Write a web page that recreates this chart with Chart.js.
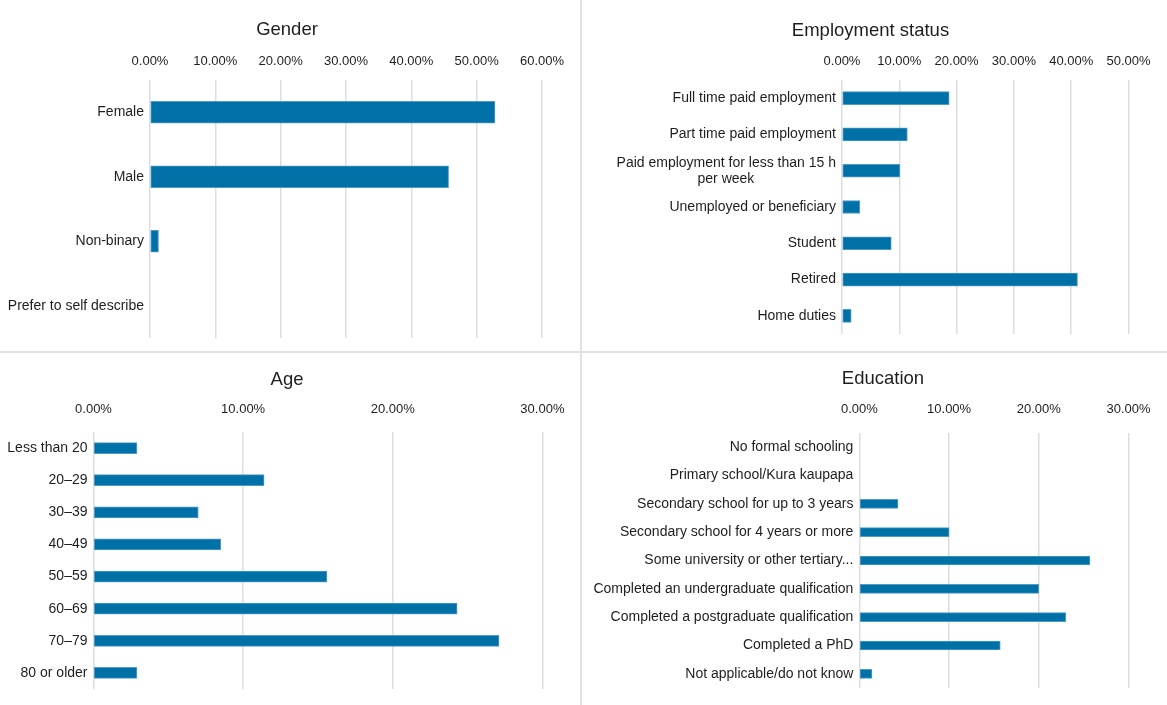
<!DOCTYPE html>
<html>
<head>
<meta charset="utf-8">
<script src="https://cdn.jsdelivr.net/npm/chart.js@4/dist/chart.umd.min.js"></script>
<style>
  html, body { margin: 0; padding: 0; background: #ffffff; }
  #wrap { position: relative; width: 1167px; height: 705px; overflow: hidden; background: #fff; }
  canvas { position: absolute; }
  .vline { position: absolute; left: 580px; top: 0; width: 2px; height: 705px; background: #e2e2e2; }
  .hline { position: absolute; left: 0; top: 351px; width: 1167px; height: 2px; background: #e2e2e2; }
</style>
</head>
<body>
<div id="wrap">
  <canvas id="cGender" width="581" height="352" style="left:0;top:0"></canvas>
  <canvas id="cEmp" width="586" height="352" style="left:581px;top:0"></canvas>
  <canvas id="cAge" width="581" height="353" style="left:0;top:352px"></canvas>
  <canvas id="cEdu" width="586" height="353" style="left:581px;top:352px"></canvas>
  <div class="vline"></div>
  <div class="hline"></div>
</div>
<script>
// ---------- DATA ----------
const genderLabels = ['Female', 'Male', 'Non-binary', 'Prefer to self describe'];
const genderValues = [52.8, 45.7, 1.3, 0];

const employmentLabels = [
  'Full time paid employment',
  'Part time paid employment',
  ['Paid employment for less than 15 h', 'per week'],
  'Unemployed or beneficiary',
  'Student',
  'Retired',
  'Home duties'
];
const employmentValues = [18.7, 11.4, 10.1, 3.1, 8.6, 41.1, 1.6];

const ageLabels = ['Less than 20', '20–29', '30–39', '40–49', '50–59', '60–69', '70–79', '80 or older'];
const ageValues = [2.9, 11.4, 7.0, 8.5, 15.6, 24.3, 27.1, 2.9];

const educationLabels = [
  'No formal schooling',
  'Primary school/Kura kaupapa',
  'Secondary school for up to 3 years',
  'Secondary school for 4 years or more',
  'Some university or other tertiary...',
  'Completed an undergraduate qualification',
  'Completed a postgraduate qualification',
  'Completed a PhD',
  'Not applicable/do not know'
];
const educationValues = [0, 0, 4.3, 10.0, 25.7, 20.0, 23.0, 15.7, 1.4];

const genderTicksMax = 60;
const employmentTicksMax = 50;
const ageTicksMax = 30;
const educationTicksMax = 30;

// ---------- STYLE ----------
const FONT = '"Liberation Sans", Arial, Helvetica, sans-serif';
const TEXT = '#1e1e1e';
const BAR = '#0071a7';
const BAR_EDGE = '#4f9cc6';
const GRID = '#dddddd';
const LABEL_SIZE = 14;
const TICK_SIZE = 13;
const TITLE_SIZE = 18.5;

Chart.defaults.font.family = FONT;
Chart.defaults.color = TEXT;

const measureCtx = document.createElement('canvas').getContext('2d');
function centerLines(lbl) {
  if (!Array.isArray(lbl)) return lbl;
  measureCtx.font = LABEL_SIZE + 'px ' + FONT;
  const widths = lbl.map(s => measureCtx.measureText(s).width);
  const maxW = Math.max(...widths);
  const sp = measureCtx.measureText('\u00A0').width || 3.9;
  return lbl.map((s, i) => {
    const n = Math.round((maxW - widths[i]) / 2 / sp);
    return s + '\u00A0'.repeat(n);
  });
}

const panelTitle = {
  id: 'panelTitle',
  afterDraw(chart, args, opts) {
    if (!opts || !opts.text) return;
    const ctx = chart.ctx;
    ctx.save();
    ctx.font = TITLE_SIZE + 'px ' + FONT;
    ctx.fillStyle = TEXT;
    ctx.textAlign = 'center';
    ctx.textBaseline = 'middle';
    ctx.fillText(opts.text, opts.x, opts.y);
    ctx.restore();
  }
};

function makePanel(id, title, labels, values, max, g) {
  new Chart(document.getElementById(id), {
    type: 'bar',
    data: {
      labels: labels,
      datasets: [{
        data: values,
        backgroundColor: BAR,
        borderColor: BAR_EDGE,
        borderWidth: 1,
        borderSkipped: false,
        barThickness: g.bar
      }]
    },
    plugins: [panelTitle],
    options: {
      indexAxis: 'y',
      responsive: false,
      animation: false,
      devicePixelRatio: 1,
      layout: { padding: { left: 0, right: g.padR, top: 0, bottom: g.padB } },
      plugins: {
        legend: { display: false },
        tooltip: { enabled: false },
        title: { display: false },
        panelTitle: { text: title, x: g.titleX, y: g.titleY }
      },
      scales: {
        x: {
          position: 'top',
          min: 0,
          max: max,
          border: { display: false },
          grid: { color: GRID, lineWidth: 1.5, drawTicks: false },
          ticks: {
            stepSize: 10,
            padding: g.xPad,
            color: TEXT,
            font: { size: TICK_SIZE, lineHeight: 1.2 },
            callback: v => Number(v).toFixed(2) + '%'
          },
          afterFit: s => { s.height = g.top; }
        },
        y: {
          border: { display: false },
          grid: { display: false, drawTicks: false },
          ticks: {
            padding: 6,
            color: TEXT,
            autoSkip: false,
            font: { size: LABEL_SIZE, lineHeight: 1.15 },
            callback: function (v, i) { return centerLines(labels[i]); }
          },
          afterFit: s => { s.width = g.left; }
        }
      }
    }
  });
}

makePanel('cGender', 'Gender', genderLabels, genderValues, genderTicksMax,
  { left: 150, top: 80, padR: 39, padB: 14, titleX: 287, titleY: 30, xPad: 10.5, bar: 22 });
makePanel('cEmp', 'Employment status', employmentLabels, employmentValues, employmentTicksMax,
  { left: 261, top: 80, padR: 38.5, padB: 18, titleX: 289.5, titleY: 31, xPad: 10.5, bar: 13 });
makePanel('cAge', 'Age', ageLabels, ageValues, ageTicksMax,
  { left: 93.5, top: 80, padR: 38.6, padB: 16, titleX: 287, titleY: 28, xPad: 14.9, bar: 11 });
makePanel('cEdu', 'Education', educationLabels, educationValues, educationTicksMax,
  { left: 278.4, top: 81, padR: 38.5, padB: 17, titleX: 302, titleY: 27.3, xPad: 15.9, bar: 9 });
</script>
</body>
</html>
